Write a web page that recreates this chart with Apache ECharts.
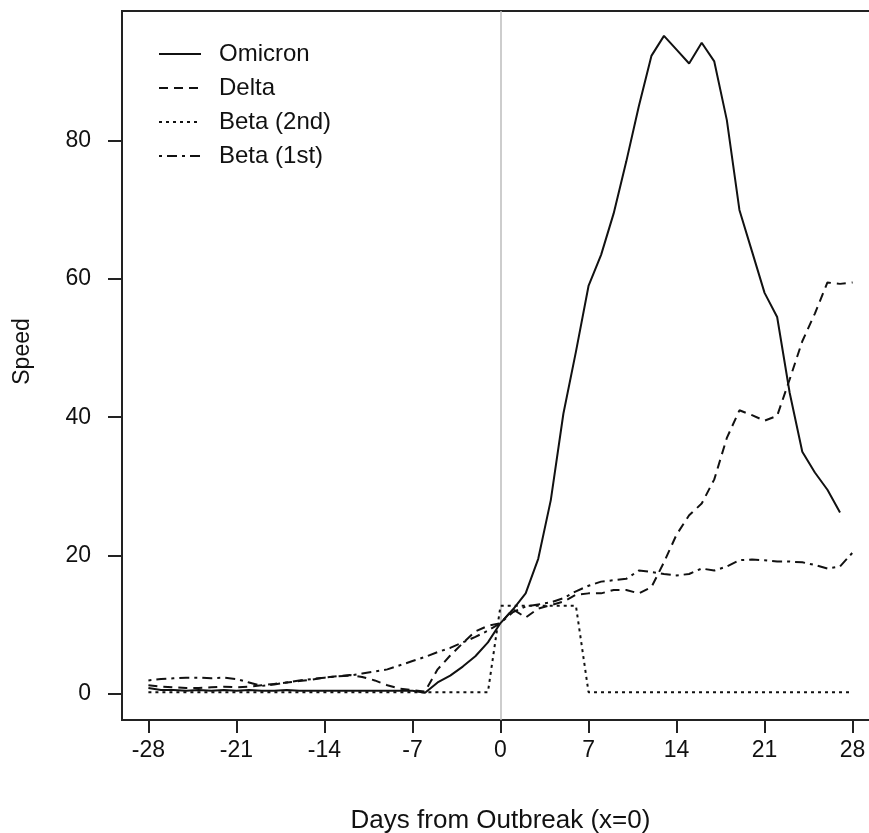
<!DOCTYPE html>
<html>
<head>
<meta charset="utf-8">
<script src="https://cdn.jsdelivr.net/npm/echarts@6/dist/echarts.min.js"></script>
<style>
  html, body { margin: 0; padding: 0; background: #fff; }
  #speedChart { width: 869px; height: 833px; }
</style>
</head>
<body>
<div id="speedChart"></div>
<script>
// days from outbreak, -28 .. 28
var days = [-28,-27,-26,-25,-24,-23,-22,-21,-20,-19,-18,-17,-16,-15,-14,-13,-12,-11,-10,-9,-8,-7,-6,-5,-4,-3,-2,-1,
  0,1,2,3,4,5,6,7,8,9,10,11,12,13,14,15,16,17,18,19,20,21,22,23,24,25,26,27,28]

var omicron = [0.8,0.5,0.5,0.4,0.5,0.4,0.5,0.4,0.5,0.4,0.4,0.5,0.4,0.4,0.4,0.4,0.4,0.4,0.4,0.4,0.4,0.4,0.1,1.6,2.6,3.9,5.4,7.4,
  10.2,12.2,14.5,19.5,28,40.5,49.5,59,63.5,69.5,77,85,92.3,95.2,93.2,91.2,94.2,91.5,83,70,64,58,54.5,43.5,35,32,29.5,26.2,null]

var delta = [1.2,1.0,0.9,0.8,0.8,0.9,1.0,0.9,1.0,1.2,1.4,1.6,1.8,2.0,2.3,2.5,2.7,2.4,1.9,1.2,0.7,0.5,0.3,3.5,5.5,7.3,9.0,9.8,
  10.2,12.2,11.0,12.3,12.8,13.3,14.3,14.5,14.5,15.0,15.0,14.5,15.4,19,23,25.8,27.5,31,37,41,40.3,39.5,40.2,45.5,51,55,59.5,59.3,59.5]

var beta2 = [0.2,0.2,0.2,0.2,0.2,0.2,0.2,0.2,0.2,0.2,0.2,0.2,0.2,0.2,0.2,0.2,0.2,0.2,0.2,0.2,0.2,0.2,0.2,0.2,0.2,0.2,0.2,0.2,
  12.7,12.7,12.7,12.7,12.7,12.7,12.7,0.2,0.2,0.2,0.2,0.2,0.2,0.2,0.2,0.2,0.2,0.2,0.2,0.2,0.2,0.2,0.2,0.2,0.2,0.2,0.2,0.2,0.2]

var beta1 = [1.9,2.1,2.2,2.3,2.3,2.2,2.3,2.1,1.6,1.1,1.3,1.6,1.9,2.1,2.3,2.5,2.6,2.9,3.2,3.5,4.1,4.7,5.3,6.0,6.6,7.4,8.2,9.1,
  10.2,11.8,12.6,12.9,13.2,13.8,14.8,15.6,16.2,16.4,16.6,17.8,17.6,17.3,17.1,17.3,18.1,17.8,18.4,19.3,19.4,19.3,19.1,19.1,19.0,18.6,18.1,18.4,20.4]

var xTicks = [-28,-21,-14,-7,0,7,14,21,28]
var yTicks = [0,20,40,60,80]

function pairs(vals) {
  var out = []
  for (var i = 0; i < days.length; i++) {
    out.push([days[i], vals[i]])
  }
  return out
}

var font = '"Liberation Sans", Arial, sans-serif'

var chart = echarts.init(document.getElementById('speedChart'))
var option = {
  animation: false,
  grid: {
    left: 122,
    top: 11,
    width: 757,
    height: 709,
    outerBoundsMode: 'none',
    show: true,
    borderColor: '#222',
    borderWidth: 2,
    backgroundColor: 'transparent'
  },
  legend: {
    orient: 'vertical',
    left: 158,
    top: 42,
    padding: 0,
    itemWidth: 42,
    itemHeight: 14,
    itemGap: 10,
    itemStyle: { opacity: 0 },
    textStyle: {
      fontFamily: font,
      fontSize: 24,
      color: '#111',
      padding: [0, 0, 0, 13]
    },
    data: ['Omicron', 'Delta', 'Beta (2nd)', 'Beta (1st)']
  },
  xAxis: {
    type: 'value',
    min: -30.1,
    max: 30.1,
    name: 'Days from Outbreak (x=0)',
    nameLocation: 'middle',
    nameGap: 88,
    nameTextStyle: { fontFamily: font, fontSize: 26, color: '#111' },
    axisLine: { show: false, onZero: false },
    axisTick: { show: true, length: 13, customValues: xTicks, lineStyle: { color: '#222', width: 2 } },
    axisLabel: { customValues: xTicks, margin: 19, fontFamily: font, fontSize: 23, color: '#111' },
    splitLine: { show: false }
  },
  yAxis: {
    type: 'value',
    min: -3.83,
    max: 98.8,
    name: 'Speed',
    nameLocation: 'middle',
    nameGap: 88,
    nameTextStyle: { fontFamily: font, fontSize: 23, color: '#111', padding: [0, 0, 0, 28] },
    axisLine: { show: false, onZero: false },
    axisTick: { show: true, length: 14, customValues: yTicks, lineStyle: { color: '#222', width: 2 } },
    axisLabel: { customValues: yTicks, margin: 31, fontFamily: font, fontSize: 23, color: '#111' },
    splitLine: { show: false }
  },
  series: [
    {
      name: 'Omicron',
      type: 'line',
      data: pairs(omicron),
      symbol: 'none',
      z: 3,
      lineStyle: { color: '#111', width: 2, type: 'solid' },
      markLine: {
        silent: true,
        symbol: ['none', 'none'],
        label: { show: false },
        lineStyle: { color: '#bdbdbd', width: 1.5, type: 'solid' },
        data: [{ xAxis: 0 }],
        z: 1
      }
    },
    {
      name: 'Delta',
      type: 'line',
      data: pairs(delta),
      symbol: 'none',
      z: 3,
      lineStyle: { color: '#111', width: 2, type: [9, 6] }
    },
    {
      name: 'Beta (2nd)',
      type: 'line',
      data: pairs(beta2),
      symbol: 'none',
      z: 3,
      lineStyle: { color: '#111', width: 2, type: [3, 4] }
    },
    {
      name: 'Beta (1st)',
      type: 'line',
      data: pairs(beta1),
      symbol: 'none',
      z: 3,
      lineStyle: { color: '#111', width: 2, type: [3, 5, 10, 5] }
    }
  ]
}
chart.setOption(option)
</script>
</body>
</html>
